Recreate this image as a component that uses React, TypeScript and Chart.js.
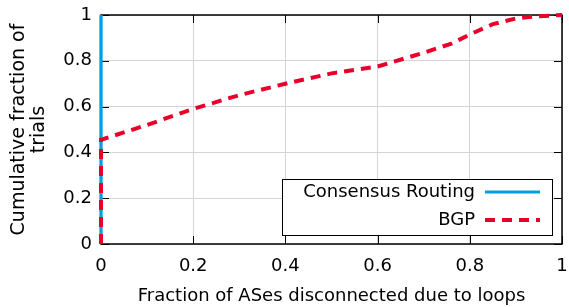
import React, { useEffect, useRef } from "react";
import { Chart, registerables } from "chart.js";

Chart.register(...registerables);

const bgpX = [0, 0, 0.1, 0.2, 0.3, 0.4, 0.5, 0.6, 0.7, 0.76, 0.8, 0.85, 0.9, 0.95, 1.0];
const bgpY = [0, 0.455, 0.52, 0.59, 0.65, 0.70, 0.745, 0.775, 0.835, 0.875, 0.915, 0.96, 0.985, 0.995, 1.0];
const consensusX = [0, 0];
const consensusY = [0, 1];
const tickValues = [0, 0.2, 0.4, 0.6, 0.8, 1];
const seriesLabels = ["Consensus Routing", "BGP"];
const xTitle = "Fraction of ASes disconnected due to loops";
const yTitle = ["Cumulative fraction of", "trials"];

const BLUE = "#00a0e0";
const RED = "#e8002a";
const FONT = "'DejaVu Sans', sans-serif";

const frameTicks = {
  id: "frameTicks",
  beforeDatasetsDraw(chart: any) {
    const { ctx, chartArea: a, scales } = chart;
    ctx.save();
    ctx.strokeStyle = "#000";
    ctx.lineWidth = 1;
    const len = 8;
    for (const v of tickValues) {
      const x = Math.round(scales.x.getPixelForValue(v)) + 0.5;
      ctx.beginPath();
      ctx.moveTo(x, a.bottom); ctx.lineTo(x, a.bottom - len);
      ctx.moveTo(x, a.top); ctx.lineTo(x, a.top + len);
      ctx.stroke();
      const y = Math.round(scales.y.getPixelForValue(v)) + 0.5;
      ctx.beginPath();
      ctx.moveTo(a.left, y); ctx.lineTo(a.left + len, y);
      ctx.moveTo(a.right, y); ctx.lineTo(a.right - len, y);
      ctx.stroke();
    }
    ctx.lineWidth = 1.5;
    ctx.strokeRect(a.left, a.top, a.right - a.left, a.bottom - a.top);
    ctx.restore();
  },
};

const boxLegend = {
  id: "boxLegend",
  afterDatasetsDraw(chart: any) {
    const { ctx } = chart;
    const bx = 282, by = 179, bw = 270, bh = 56;
    ctx.save();
    ctx.fillStyle = "#fff";
    ctx.fillRect(bx, by, bw, bh);
    ctx.strokeStyle = "#000";
    ctx.lineWidth = 1;
    ctx.strokeRect(bx + 0.5, by + 0.5, bw, bh);
    ctx.font = `18px ${FONT}`;
    ctx.textAlign = "right";
    ctx.textBaseline = "middle";
    ctx.fillStyle = "#000";
    const rows = [
      { y: 192, color: BLUE, dash: [] as number[], w: 3 },
      { y: 220, color: RED, dash: [10, 7], w: 4 },
    ];
    rows.forEach((r, i) => {
      ctx.fillText(seriesLabels[i], 475, r.y);
      ctx.beginPath();
      ctx.strokeStyle = r.color;
      ctx.lineWidth = r.w;
      ctx.setLineDash(r.dash);
      ctx.moveTo(485, r.y);
      ctx.lineTo(540, r.y);
      ctx.stroke();
      ctx.setLineDash([]);
    });
    ctx.restore();
  },
};

export default function App() {
  const ref = useRef<HTMLCanvasElement>(null);
  useEffect(() => {
    document.body.style.margin = "0";
    const chart = new Chart(ref.current!, {
      type: "line",
      data: {
        datasets: [
          {
            label: seriesLabels[0],
            data: consensusX.map((x, i) => ({ x, y: consensusY[i] })),
            borderColor: BLUE,
            borderWidth: 3.3,
            pointRadius: 0,
            clip: false as any,
            order: 2,
          },
          {
            label: seriesLabels[1],
            data: bgpX.map((x, i) => ({ x, y: bgpY[i] })),
            borderColor: RED,
            borderWidth: 4,
            borderDash: [10, 7],
            pointRadius: 0,
            clip: false as any,
            order: 1,
          },
        ],
      },
      options: {
        animation: false,
        responsive: false,
        layout: { padding: { top: 15, right: 7, left: 0, bottom: 0 } },
        plugins: { legend: { display: false }, tooltip: { enabled: false } },
        scales: {
          x: {
            type: "linear",
            min: 0,
            max: 1,
            afterBuildTicks: (s: any) => { s.ticks = tickValues.map((v) => ({ value: v })); },
            afterFit: (s: any) => { s.height = 63; s.paddingLeft = 0; s.paddingRight = 0; },
            ticks: {
              font: { family: FONT, size: 18 },
              color: "#000",
              padding: 12,
              maxRotation: 0,
              callback: (v: any) => String(v),
            },
            grid: { color: "#d4d4d4", lineWidth: 1, drawTicks: false },
            border: { display: false },
            title: {
              display: true,
              text: xTitle,
              font: { family: FONT, size: 18 },
              color: "#000",
              padding: { top: 2, bottom: 0 },
            },
          },
          y: {
            type: "linear",
            min: 0,
            max: 1,
            afterBuildTicks: (s: any) => { s.ticks = tickValues.map((v) => ({ value: v })); },
            afterFit: (s: any) => { s.width = 101; s.paddingTop = 0; s.paddingBottom = 0; },
            ticks: {
              font: { family: FONT, size: 18 },
              color: "#000",
              padding: 9,
              callback: (v: any) => String(v),
            },
            grid: { color: "#d4d4d4", lineWidth: 1, drawTicks: false },
            border: { display: false },
            title: {
              display: true,
              text: yTitle,
              font: { family: FONT, size: 19, lineHeight: 1.05 },
              color: "#000",
              padding: { top: 9, bottom: 4 },
            },
          },
        },
      },
      plugins: [frameTicks, boxLegend],
    });
    return () => chart.destroy();
  }, []);
  return (
    <div style={{ position: "fixed", left: 0, top: 0, width: 569, height: 307 }}>
      <canvas ref={ref} width={569} height={307} />
    </div>
  );
}
